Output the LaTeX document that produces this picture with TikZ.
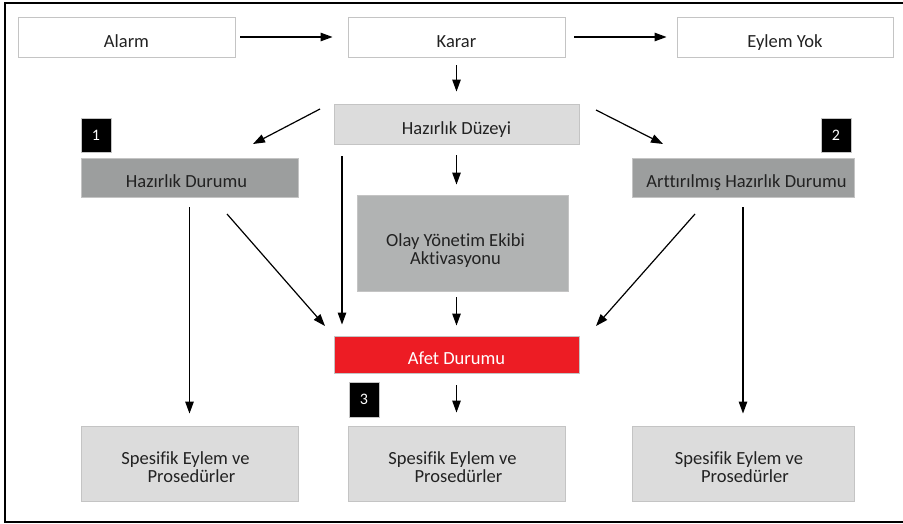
\documentclass[tikz,border=0pt]{standalone}
\usepackage{fontspec}
\setmainfont{Carlito}[Ligatures=NoCommon]
\usetikzlibrary{arrows.meta}
\definecolor{txt}{HTML}{222222}
\definecolor{bord}{HTML}{C4C4C4}
\definecolor{light}{HTML}{DCDCDC}
\definecolor{dark}{HTML}{9C9E9E}
\definecolor{mid}{HTML}{B1B3B3}
\definecolor{afetred}{HTML}{ED1C24}
\begin{document}
\begin{tikzpicture}[x=1pt,y=-1pt,
  box/.style={draw=bord, line width=0.9pt, inner sep=0pt},
  lbl/.style={inner sep=0pt, text=txt, align=center, font=\fontsize{18.5}{18}\selectfont},
  sl/.style={lbl, text height=13pt, text depth=4pt, yshift=-6pt},
  one/.style={label={[sl]center:#1}},
  numbox/.style={fill=black, draw=bord, line width=0.6pt, minimum width=30pt, minimum height=34pt,
    inner sep=0pt, text=white, font=\fontsize{16}{16}\selectfont},
  arr/.style={line width=1.2pt, -{Triangle[length=12pt,width=8.5pt]}}]
\useasboundingbox (0,0) rectangle (903,524);
\draw[line width=1.6pt] (5,3) rectangle (906,522);
% top row
\node[box, fill=white, minimum width=217pt, minimum height=40pt, one=Alarm] (alarm) at (126.5,37) {};
\node[box, fill=white, minimum width=217pt, minimum height=40pt, one=Karar] (karar) at (456.5,37) {};
\node[box, fill=white, minimum width=216pt, minimum height=40pt, one=Eylem Yok] (eylem) at (785,37) {};
% second
\node[box, fill=light, minimum width=245pt, minimum height=40pt, one=Hazırlık Düzeyi] (duzeyi) at (456.5,124) {};
\node[box, fill=dark, minimum width=217pt, minimum height=39pt,
  label={[sl, xshift=-3pt]center:Hazırlık Durumu}] (hd) at (189.5,177.5) {};
\node[box, fill=dark, minimum width=222pt, minimum height=39pt,
  label={[sl, xshift=3.5pt]center:Arttırılmış Hazırlık Durumu}] (ahd) at (743,177.5) {};
\node[box, fill=mid, minimum width=211pt, minimum height=96pt,
  label={[lbl, yshift=-7.5pt, xshift=-7pt]center:{Olay Yönetim Ekibi\\Aktivasyonu}}] (olay) at (462.5,243) {};
\node[box, fill=afetred, minimum width=245pt, minimum height=37pt,
  label={[sl, text=white, yshift=1pt]center:Afet Durumu}] (afet) at (456.5,354.5) {};
% numbers
\node[numbox] (n1) at (96,135) {\raisebox{-2pt}{1}};
\node[numbox] (n2) at (836,135) {\raisebox{-2pt}{2}};
\node[numbox, minimum height=35pt] (n3) at (364,399.5) {\raisebox{-2pt}{3}};
% bottom
\node[box, fill=light, minimum width=217pt, minimum height=75pt,
  label={[lbl, yshift=-4pt]center:{Spesifik Eylem ve\kern8pt\\\kern4pt Prosedürler}}] (s1) at (189.5,463.5) {};
\node[box, fill=light, minimum width=217pt, minimum height=75pt,
  label={[lbl, yshift=-4pt]center:{Spesifik Eylem ve\kern8pt\\\kern4pt Prosedürler}}] (s2) at (456.5,463.5) {};
\node[box, fill=light, minimum width=222pt, minimum height=75pt,
  label={[lbl, yshift=-4pt]center:{Spesifik Eylem ve\kern8pt\\\kern4pt Prosedürler}}] (s3) at (743,463.5) {};
% connectors
\draw[arr, shorten <=5pt, shorten >=15pt] (alarm.east) -- (karar.west);
\draw[arr, shorten <=9pt, shorten >=10pt] (karar.east) -- (eylem.west);
\draw[arr, shorten <=8pt, shorten >=12pt] (karar.south) -- (duzeyi.north);
\coordinate (d1s) at (320,109); \coordinate (d1e) at (253,144);
\coordinate (d2s) at (596,110); \coordinate (d2e) at (663,144);
\draw[arr] (d1s) -- (d1e);
\draw[arr] (d2s) -- (d2e);
\draw[arr, shorten <=11pt, shorten >=10pt] (duzeyi.south) -- (duzeyi.south |- olay.north);
\draw[arr, shorten <=12pt, shorten >=11pt] ([xshift=-114.5pt]duzeyi.south) -- ([xshift=-114.5pt]afet.north);
\draw[arr, shorten <=10pt, shorten >=12pt] (hd.south) -- (s1.north);
\draw[arr, shorten <=10pt, shorten >=12pt] (ahd.south) -- (s3.north);
\coordinate (h1s) at (227,214); \coordinate (h1e) at (325,326);
\coordinate (h2s) at (695,214); \coordinate (h2e) at (596,326);
\draw[arr] (h1s) -- (h1e);
\draw[arr] (h2s) -- (h2e);
\draw[arr, shorten <=6pt, shorten >=10pt] (olay.south -| afet.north) -- (afet.north);
\draw[arr, shorten <=12pt, shorten >=13pt] (afet.south) -- (s2.north);
\end{tikzpicture}
\end{document}
